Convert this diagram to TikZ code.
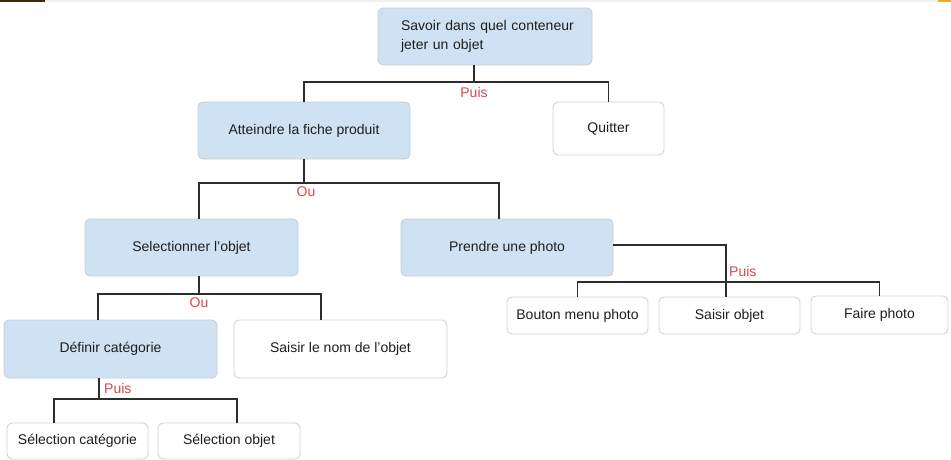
\documentclass[tikz,border=0pt]{standalone}
\usepackage{fontspec}
\setmainfont{Liberation Sans}
\definecolor{boxblue}{RGB}{207,226,243}
\definecolor{boxline}{RGB}{200,205,212}
\definecolor{wline}{RGB}{210,210,210}
\definecolor{conn}{RGB}{45,45,45}
\definecolor{lblred}{RGB}{214,72,72}
\definecolor{txt}{RGB}{30,30,30}
\definecolor{stripdark}{RGB}{60,40,10}
\definecolor{striporange}{RGB}{240,170,30}
\begin{document}
\begin{tikzpicture}[x=1pt,y=-1pt,
  base/.style={rectangle,rounded corners=5pt,line width=0.9pt,inner sep=0pt,outer sep=0pt,
    font=\fontsize{14}{19.5}\selectfont,text=txt},
  bluebox/.style={base,fill=boxblue,draw=boxline},
  whitebox/.style={base,fill=white,draw=wline},
  wire/.style={draw=conn,line width=1.8pt},
  lbl/.style={text=lblred,font=\fontsize{14}{16}\selectfont,inner sep=0pt}]
\useasboundingbox (0,0) rectangle (951,459);
% top strip
\fill[black!6] (0,0) rectangle (951,2);
\fill[stripdark] (0,0) rectangle (45,1.5);
\fill[striporange] (938,0) rectangle (951,1.5);

% nodes
\node[bluebox,minimum width=214pt,minimum height=57pt,text width=186pt,inner xsep=14pt,align=left] (root) at (485,36.5)
  {\hspace*{9pt}Savoir dans quel conteneur\\\hspace*{9pt}jeter un objet};
\node[bluebox,minimum width=212pt,minimum height=57pt] (att) at (304,130.5) {Atteindre la fiche produit};
\node[whitebox,minimum width=111pt,minimum height=53pt] (qui) at (608.5,128.5) {Quitter};
\node[bluebox,minimum width=213pt,minimum height=57pt] (sel) at (191.5,247.5) {Selectionner l’objet};
\node[bluebox,minimum width=212pt,minimum height=57pt] (pre) at (507,247.5) {Prendre une photo};
\node[whitebox,minimum width=141pt,minimum height=37pt] (bou) at (577.5,315.5) {Bouton menu photo};
\node[whitebox,minimum width=141pt,minimum height=37pt] (sai) at (729.5,315.5) {\raisebox{2pt}{Saisir objet}};
\node[whitebox,minimum width=137pt,minimum height=38pt] (fai) at (879.5,315) {Faire photo};
\node[bluebox,minimum width=213pt,minimum height=58pt] (def) at (110.5,349) {Définir catégorie};
\node[whitebox,minimum width=213pt,minimum height=58pt] (nom) at (340.5,349) {Saisir le nom de l’objet};
\node[whitebox,minimum width=141pt,minimum height=36pt] (scat) at (77.5,441) {Sélection catégorie};
\node[whitebox,minimum width=142pt,minimum height=36pt] (sobj) at (229,441) {\raisebox{2pt}{Sélection objet}};

% bus coordinates
\coordinate (j1) at (474,82);
\coordinate (b2l) at (199,183);
\coordinate (b2r) at (499,183);
\coordinate (b3c) at (726,245);
\coordinate (b3) at (726,282);
\coordinate (b4l) at (98,294);
\coordinate (b4r) at (321,294);
\coordinate (b5) at (99,399);
\coordinate (b5l) at (54,399);
\coordinate (b5r) at (237,399);

% connectors
\draw[wire] (root.south -| j1) -- (j1);
\draw[wire] (att.north) |- (j1) -| (qui.north);
\draw[wire] (att.south) -- (att.south |- b2l);
\draw[wire] (b2l |- sel.north) -- (b2l) -- (b2r) -- (b2r |- pre.north);
\draw[wire] (pre.east |- b3c) -- (b3c) -- (b3c |- sai.north);
\draw[wire] (bou.north) -- (bou.north |- b3) -- (fai.north |- b3) -- (fai.north);
\draw[wire] (b2l |- sel.south) -- (b2l |- b4l);
\draw[wire] (b4l |- def.north) -- (b4l) -- (b4r) -- (b4r |- nom.north);
\draw[wire] (b5 |- def.south) -- (b5);
\draw[wire] (b5l |- scat.north) -- (b5l) -- (b5r) -- (b5r |- sobj.north);

% labels
\node[lbl] (l1) at (474,92) {Puis};
\node[lbl] (l2) at (306,192) {Ou};
\node[lbl,anchor=west] (l3) at (729,271) {Puis};
\node[lbl] (l4) at (199,303) {Ou};
\node[lbl,anchor=west] (l5) at (104,388) {Puis};
\end{tikzpicture}
\end{document}
